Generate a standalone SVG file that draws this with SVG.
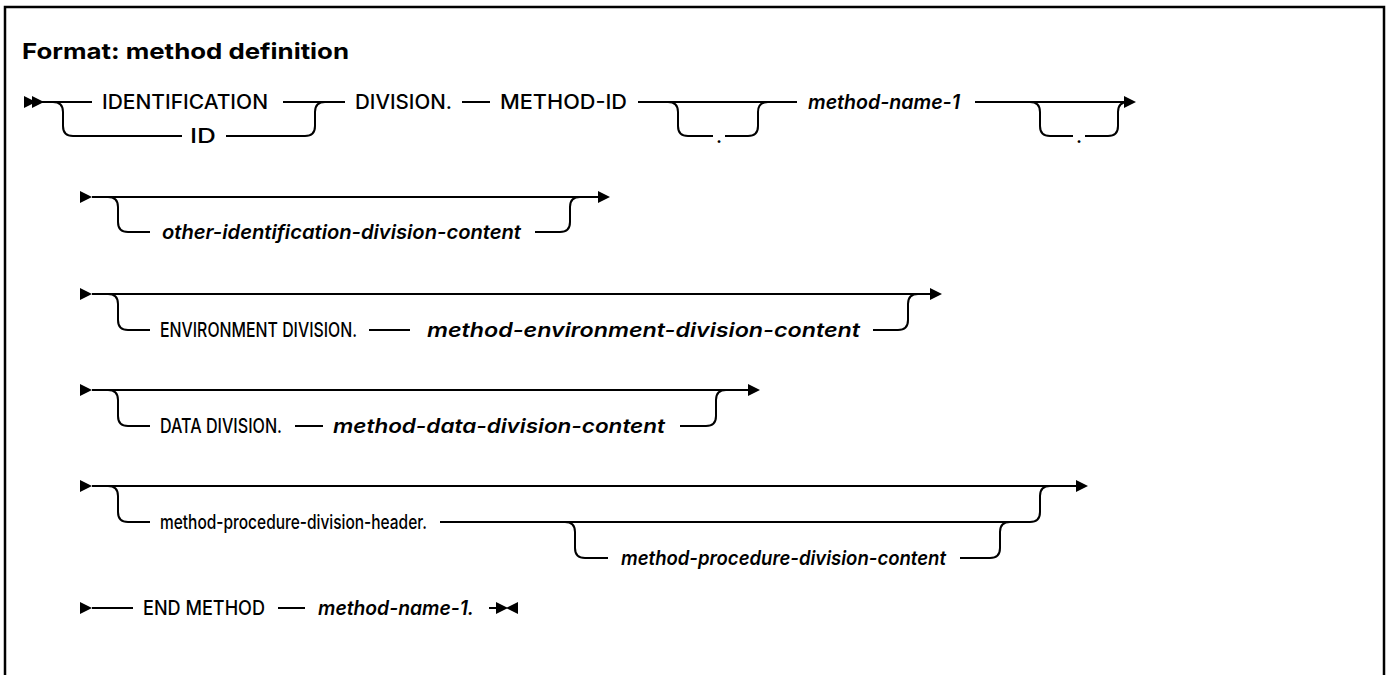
<svg xmlns="http://www.w3.org/2000/svg" width="1386" height="675" viewBox="0 0 1386 675">
<style>
.frame{stroke:#000;stroke-width:2.5;fill:none}
.ln{stroke:#000;stroke-width:2;fill:none}
.ah{fill:#000;stroke:none}
.kw{font-family:Inter,"Noto Sans","Liberation Sans",sans-serif;font-size:20px;font-weight:500;fill:#000}
.var{font-family:Inter,"Noto Sans","Liberation Sans",sans-serif;font-size:20px;font-style:italic;font-weight:600;fill:#000}
.title{font-family:Inter,"Noto Sans","Liberation Sans",sans-serif;font-size:22px;font-weight:700;fill:#000}
</style>
<defs>
<polygon id="arR" points="0,-6 12,0 0,6"/>
<polygon id="arL" points="12,-6 0,0 12,6"/>
</defs>
<rect width="1386" height="675" fill="#fff"/>
<path class="frame" d="M5,690 V7 H1384 V690"/>
<text class="title" x="22" y="59" textLength="327" lengthAdjust="spacingAndGlyphs">Format: method definition</text>

<g id="connectors">
<!-- row 1 -->
<use href="#arR" x="24" y="102" class="ah"/>
<use href="#arR" x="32" y="102" class="ah"/>
<path class="ln" d="M42,102 H92 M283,102 H345 M462,102 H490 M638,102 H797 M975,102 H1125"/>
<path class="ln" d="M53,102 Q63,102 63,112 V126 Q63,136 73,136 H182 M226,136 H305 Q315,136 315,126 V112 Q315,102 325,102"/>
<path class="ln" d="M668,102 Q678,102 678,112 V126 Q678,136 688,136 H713 M725,136 H748 Q758,136 758,126 V112 Q758,102 768,102"/>
<path class="ln" d="M1030,102 Q1040,102 1040,112 V126 Q1040,136 1050,136 H1073 M1085,136 H1108 Q1118,136 1118,126 V112 Q1118,102 1128,102"/>
<use href="#arR" x="1124" y="102" class="ah"/>
<!-- row 2 -->
<use href="#arR" x="80" y="197" class="ah"/>
<path class="ln" d="M92,197 H600"/>
<path class="ln" d="M108,197 Q118,197 118,207 V222 Q118,232 128,232 H150 M535,232 H560 Q570,232 570,222 V207 Q570,197 580,197"/>
<use href="#arR" x="598" y="197" class="ah"/>
<!-- row 3 -->
<use href="#arR" x="80" y="294" class="ah"/>
<path class="ln" d="M92,294 H932"/>
<path class="ln" d="M108,294 Q118,294 118,304 V320 Q118,330 128,330 H150 M369,330 H410 M873,330 H898 Q908,330 908,320 V304 Q908,294 918,294"/>
<use href="#arR" x="930" y="294" class="ah"/>
<!-- row 4 -->
<use href="#arR" x="80" y="390" class="ah"/>
<path class="ln" d="M92,390 H750"/>
<path class="ln" d="M108,390 Q118,390 118,400 V416 Q118,426 128,426 H150 M295,426 H323 M680,426 H706 Q716,426 716,416 V400 Q716,390 726,390"/>
<use href="#arR" x="748" y="390" class="ah"/>
<!-- row 5 -->
<use href="#arR" x="80" y="486" class="ah"/>
<path class="ln" d="M92,486 H1078"/>
<path class="ln" d="M108,486 Q118,486 118,496 V512 Q118,522 128,522 H150 M440,522 H1030 Q1040,522 1040,512 V496 Q1040,486 1050,486"/>
<path class="ln" d="M565,522 Q575,522 575,532 V548 Q575,558 585,558 H608 M960,558 H990 Q1000,558 1000,548 V532 Q1000,522 1010,522"/>
<use href="#arR" x="1076" y="486" class="ah"/>
<!-- row 6 -->
<use href="#arR" x="80" y="608" class="ah"/>
<path class="ln" d="M92,608 H133 M278,608 H305 M489,608 H500"/>
<use href="#arR" x="496" y="608" class="ah"/>
<use href="#arL" x="506" y="608" class="ah"/>
</g>

<g id="n-identification"><text class="kw" x="102" y="109" textLength="166" lengthAdjust="spacingAndGlyphs">IDENTIFICATION</text></g>
<g id="n-id"><text class="kw" x="190" y="143" textLength="26" lengthAdjust="spacingAndGlyphs">ID</text></g>
<g id="n-division"><text class="kw" x="355" y="109" textLength="97" lengthAdjust="spacingAndGlyphs">DIVISION.</text></g>
<g id="n-methodid"><text class="kw" x="500" y="109" textLength="127" lengthAdjust="spacingAndGlyphs">METHOD-ID</text></g>
<g id="n-dot1"><text class="kw" x="716" y="143">.</text></g>
<g id="n-methodname"><text class="var" x="808" y="109" textLength="152" lengthAdjust="spacingAndGlyphs">method-name-1</text></g>
<g id="n-dot2"><text class="kw" x="1076" y="143">.</text></g>
<g id="n-otherid"><text class="var" x="162" y="239" textLength="359" lengthAdjust="spacingAndGlyphs">other-identification-division-content</text></g>
<g id="n-envdiv"><text class="kw" x="160" y="337" textLength="197" lengthAdjust="spacingAndGlyphs">ENVIRONMENT DIVISION.</text></g>
<g id="n-envcontent"><text class="var" x="427" y="337" textLength="433" lengthAdjust="spacingAndGlyphs">method-environment-division-content</text></g>
<g id="n-datadiv"><text class="kw" x="160" y="433" textLength="122" lengthAdjust="spacingAndGlyphs">DATA DIVISION.</text></g>
<g id="n-datacontent"><text class="var" x="333" y="433" textLength="332" lengthAdjust="spacingAndGlyphs">method-data-division-content</text></g>
<g id="n-prochdr"><text class="kw" x="160" y="529" textLength="267" lengthAdjust="spacingAndGlyphs">method-procedure-division-header.</text></g>
<g id="n-proccontent"><text class="var" x="621" y="565" textLength="325" lengthAdjust="spacingAndGlyphs">method-procedure-division-content</text></g>
<g id="n-endmethod"><text class="kw" x="143" y="615" textLength="122" lengthAdjust="spacingAndGlyphs">END METHOD</text></g>
<g id="n-methodname2"><text class="var" x="318" y="615" textLength="156" lengthAdjust="spacingAndGlyphs">method-name-1.</text></g>
</svg>
